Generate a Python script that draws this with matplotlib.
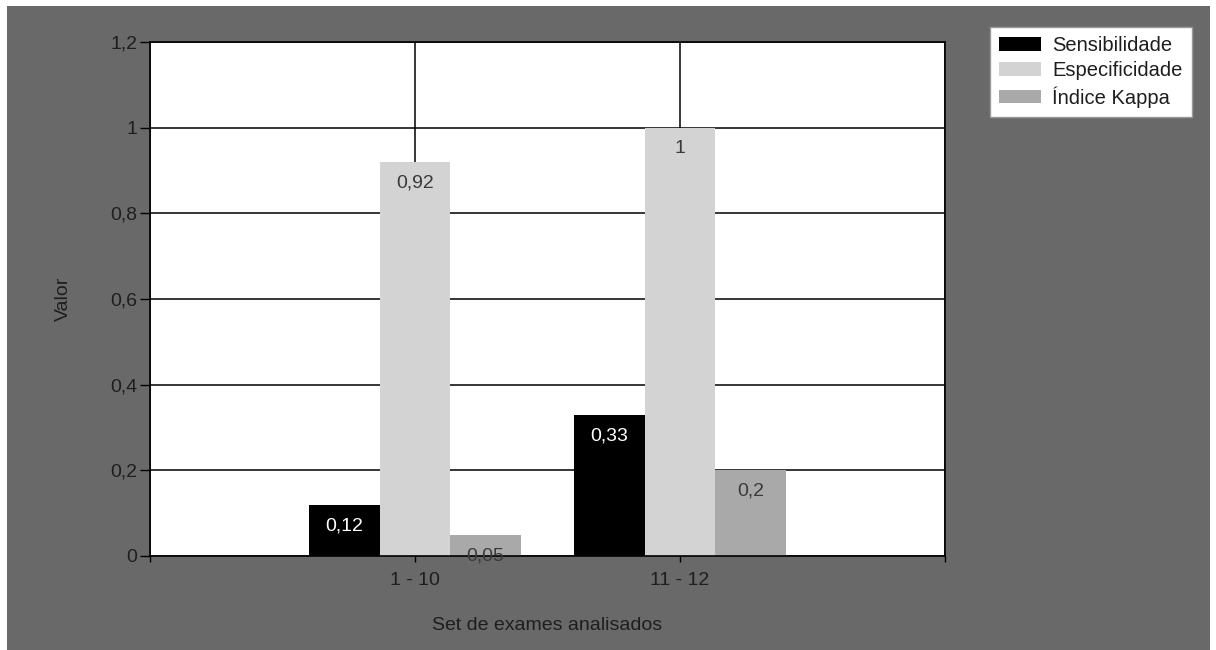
import matplotlib
matplotlib.use("Agg")
import matplotlib.pyplot as plt
from matplotlib.patches import Rectangle
import numpy as np

# Data
categories = ["1 - 10", "11 - 12"]
series_names = ["Sensibilidade", "Especificidade", "Índice Kappa"]
sensibilidade = [0.12, 0.33]
especificidade = [0.92, 1.0]
indice_kappa = [0.05, 0.2]
y_ticks = [0, 0.2, 0.4, 0.6, 0.8, 1.0, 1.2]

series = [sensibilidade, especificidade, indice_kappa]
colors = ["#000000", "#d3d3d3", "#a9a9a9"]
label_colors = ["#ffffff", "#3a3a3a", "#3a3a3a"]

plt.rcParams["font.family"] = ["Liberation Sans", "DejaVu Sans"]
FS = 14
TXT = "#1e1e1e"

W, H = 1216, 650
fig = plt.figure(figsize=(W / 100, H / 100), dpi=100, facecolor="white")

# dark grey chart panel behind everything
fig.patches.append(Rectangle((7 / W, 0), (1210 - 7) / W, 1 - 6 / H,
                             transform=fig.transFigure, facecolor="#696969",
                             edgecolor="none", zorder=-10))

ax = fig.add_axes([150 / W, (H - 556) / H, (945 - 150) / W, (556 - 42) / H])
ax.set_facecolor("white")
ax.set_axisbelow(True)

x = np.arange(1, len(categories) + 1)
n = len(series)
bw = 0.8 / n
for i, (vals, c, lc) in enumerate(zip(series, colors, label_colors)):
    pos = x - 0.4 + bw * (i + 0.5)
    bars = ax.bar(pos, vals, width=bw, color=c, edgecolor="none",
                  label=series_names[i], zorder=2)
    for b, v in zip(bars, vals):
        ax.annotate(f"{v:g}".replace(".", ","),
                    xy=(b.get_x() + b.get_width() / 2, v),
                    xytext=(0, -21), textcoords="offset pixels",
                    ha="center", va="center", fontsize=FS, color=lc, zorder=3)

ax.set_xlim(0, 3)
ax.set_ylim(0, 1.2)
ax.set_yticks(y_ticks)
ax.set_yticklabels([f"{t:g}".replace(".", ",") for t in y_ticks])
ax.set_xticks([0, 1, 2, 3])
ax.set_xticklabels([""] + categories + [""])

ax.grid(True, color="black", linewidth=1.1)
for s in ax.spines.values():
    s.set_color("black")
    s.set_linewidth(1.2)

ax.tick_params(axis="y", direction="out", length=7, width=1, color="black",
               labelsize=FS, labelcolor=TXT, pad=2)
ax.tick_params(axis="x", direction="out", length=4.5, width=1, color="black",
               labelsize=FS, labelcolor=TXT, pad=7)

ax.set_ylabel("Valor", fontsize=FS, color=TXT, labelpad=28)
ax.set_xlabel("Set de exames analisados", fontsize=FS, color=TXT,
              labelpad=20)

leg = fig.legend(loc="upper left", bbox_to_anchor=(990 / W, 1 - 27 / H),
                 frameon=True, fancybox=False, framealpha=1, facecolor="white",
                 fontsize=14.5,
                 handlelength=2.1, handleheight=0.65, handletextpad=0.55,
                 labelspacing=0.3, borderpad=0.45, borderaxespad=0)
leg.get_frame().set_edgecolor("#9a9a9a")
leg.get_frame().set_linewidth(1.0)
for t in leg.get_texts():
    t.set_color(TXT)

fig.savefig("out.png", dpi=100, facecolor=fig.get_facecolor())
